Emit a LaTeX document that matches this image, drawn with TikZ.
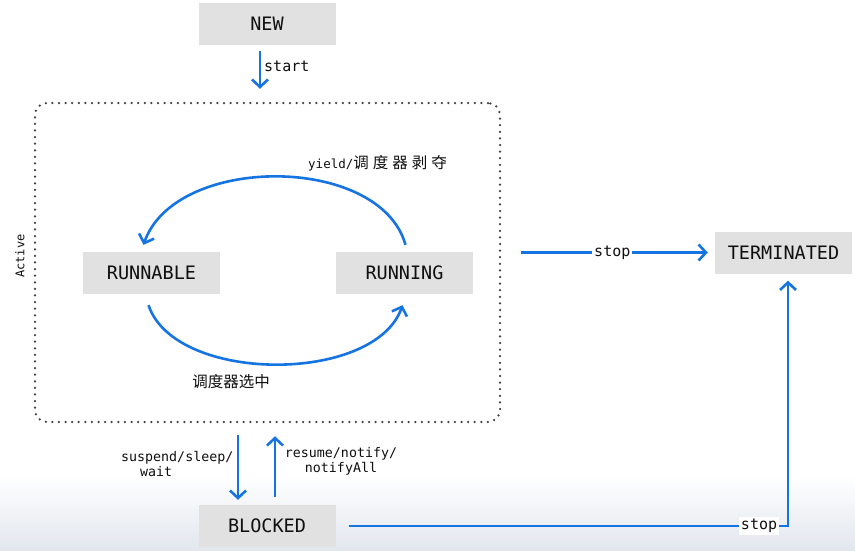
\documentclass[tikz,border=0pt]{standalone}
\usepackage{fontspec}
\setmonofont{DejaVu Sans Mono}
\newfontfamily\cjk{Noto Sans CJK SC}
\newfontfamily\cjkwide[LetterSpace=26]{Noto Sans CJK SC}
\usetikzlibrary{arrows.meta,calc}
\definecolor{flowblue}{RGB}{22,116,226}
\definecolor{boxgray}{RGB}{225,225,225}
\definecolor{txt}{RGB}{15,15,15}
\tikzset{
  state/.style={fill=boxgray, minimum width=137pt, minimum height=42pt, inner sep=0pt,
    font=\ttfamily\fontsize{18.5}{20}\selectfont, text=txt},
  flow/.style={draw=flowblue, line width=2.6pt, -{Straight Barb[length=7.5pt,width=16pt,line width=2.6pt]}},
  plainflow/.style={draw=flowblue, line width=2.6pt},
  lbl/.style={font=\ttfamily\fontsize{13.3}{15}\selectfont, text=txt, inner sep=1pt},
  biglbl/.style={font=\ttfamily\fontsize{15}{17}\selectfont, text=txt, inner sep=1pt},
  cjklbl/.style={font=\cjk\fontsize{15.5}{17}\selectfont, text=txt, inner sep=1pt},
  activebox/.style={draw=black!75, line width=2.5pt, line cap=round, dash pattern=on 0pt off 6.6pt,
    rounded corners=12pt, minimum width=465pt, minimum height=319pt, inner sep=0pt}
}
\begin{document}
\begin{tikzpicture}[x=1pt,y=-1pt]
\useasboundingbox (0,0) rectangle (855,550);
\fill[white] (0,0) rectangle (855,550);
\shade[top color=white, bottom color={rgb,255:red,226;green,231;blue,238}] (0,475) rectangle (855,550);

\node[activebox] (active) at (267.5,262.5) {};
\node[lbl, rotate=90, font=\ttfamily\fontsize{12}{13}\selectfont] (activelbl) at (20,256) {Active};

\node[state] (new) at (267,23.5) {NEW};
\node[state] (runnable) at (151.5,273) {RUNNABLE};
\node[state] (running) at (404.5,273) {RUNNING};
\node[state] (term) at (783.5,252.5) {TERMINATED};
\node[state] (blocked) at (267,526) {BLOCKED};

% start
\draw[flow, shorten <=6pt, shorten >=13pt] ([xshift=-7pt]new.south) -- ([xshift=-7pt]new.south |- active.north);
\node[biglbl, anchor=west] (startlbl) at (263,66) {start};

% yield arc
\draw[flow] ([xshift=1pt,yshift=7pt]running.north) .. controls (380,154) and (175,154) .. ([xshift=-8pt,yshift=7pt]runnable.north);
\node[lbl, anchor=west] (yieldlbl) at (307,163) {\fontsize{12.5}{14}\selectfont yield/{\cjkwide\fontsize{15.5}{17}\selectfont 调度器剥夺}};

% scheduler arc
\draw[flow] ([xshift=-3pt,yshift=-11pt]runnable.south) .. controls (175,384) and (375,384) .. ([xshift=-2pt,yshift=-11pt]running.south);
\node[cjklbl] (schedlbl) at (231,382) {调度器选中};

% stop from active
\draw[plainflow, shorten <=20pt, shorten >=7pt, -{Straight Barb[length=7.5pt,width=16pt,line width=2.6pt]}] (active.east |- term.west) -- (term.west)
  node[biglbl, fill=white, inner sep=2pt, pos=0.52] (stop1) {stop};

% suspend
\draw[flow, shorten <=12pt, shorten >=5pt] ([xshift=-29pt]blocked.north |- active.south) -- ([xshift=-29pt]blocked.north);
\node[lbl, align=left, anchor=north west] (suspendlbl) at (120,450) {suspend/sleep/\\\hspace*{19pt}wait};

% resume
\draw[flow, shorten <=8pt, shorten >=13pt] ([xshift=8pt]blocked.north) -- ([xshift=8pt]blocked.north |- active.south);
\node[lbl, align=center] (resumelbl) at (341,461) {resume/notify/\\notifyAll};

% stop from blocked
\draw[plainflow, shorten <=13pt, shorten >=7pt, -{Straight Barb[length=7.5pt,width=16pt,line width=2.6pt]}] (blocked.east) -| ([xshift=4.5pt]term.south)
  node[biglbl, fill=white, inner sep=2pt, pos=0.468] (stop2) {stop};
\end{tikzpicture}
\end{document}
